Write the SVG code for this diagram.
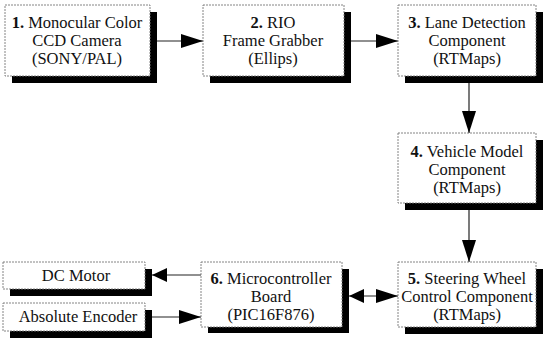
<svg xmlns="http://www.w3.org/2000/svg" width="543" height="339" viewBox="0 0 543 339">
<style>
.box{fill:#ffffff;stroke:#777777;stroke-width:0.9;stroke-dasharray:2 1}
.sh{fill:#000000}
.t{font-family:'Liberation Serif','Times New Roman',serif;font-size:16.5px;fill:#111111;text-anchor:middle}
.b{font-weight:bold}
.ln{stroke:#222222;stroke-width:1.2;fill:none}
</style>
<defs>
<marker id="ah" viewBox="0 0 22 14" refX="22" refY="7" markerWidth="22" markerHeight="14" markerUnits="userSpaceOnUse" orient="auto-start-reverse"><path d="M0,0 L22,7 L0,14 z" fill="#000"/></marker>
<marker id="ahs" viewBox="0 0 15 14" refX="15" refY="7" markerWidth="15" markerHeight="14" markerUnits="userSpaceOnUse" orient="auto-start-reverse"><path d="M0,0 L15,7 L0,14 z" fill="#000"/></marker>
</defs>
<rect width="543" height="339" fill="#fff"/>
<g id="connectors">
<line class="ln" x1="157" y1="41" x2="203" y2="41" marker-end="url(#ah)"/>
<line class="ln" x1="351" y1="41" x2="398" y2="41" marker-end="url(#ah)"/>
<line class="ln" x1="469" y1="83" x2="469" y2="133" marker-end="url(#ah)"/>
<line class="ln" x1="469" y1="210" x2="469" y2="262" marker-end="url(#ah)"/>
<line class="ln" x1="201" y1="275" x2="152" y2="275" marker-end="url(#ahs)"/>
<line class="ln" x1="152" y1="317" x2="201" y2="317" marker-end="url(#ah)"/>
<line class="ln" x1="349" y1="296" x2="398" y2="296" stroke="#888" marker-start="url(#ahs)" marker-end="url(#ah)"/>
</g>
<g id="n1">
<path class="sh" d="M150,12 H157 V83 H12 V76 H150 Z"/>
<rect class="box" x="5" y="5" width="145" height="71"/>
<text class="t" x="77" y="28"><tspan class="b">1.</tspan> Monocular Color</text>
<text class="t" x="77" y="46">CCD Camera</text>
<text class="t" x="77" y="64">(SONY/PAL)</text>
</g>
<g id="n2">
<path class="sh" d="M344,12 H351 V83 H210 V76 H344 Z"/>
<rect class="box" x="203" y="5" width="141" height="71"/>
<text class="t" x="273" y="28"><tspan class="b">2.</tspan> RIO</text>
<text class="t" x="273" y="46">Frame Grabber</text>
<text class="t" x="273" y="64">(Ellips)</text>
</g>
<g id="n3">
<path class="sh" d="M536,12 H543 V83 H405 V76 H536 Z"/>
<rect class="box" x="398" y="5" width="138" height="71"/>
<text class="t" x="467" y="28"><tspan class="b">3.</tspan> Lane Detection</text>
<text class="t" x="467" y="46">Component</text>
<text class="t" x="467" y="64">(RTMaps)</text>
</g>
<g id="n4">
<path class="sh" d="M536,140 H543 V210 H405 V203 H536 Z"/>
<rect class="box" x="398" y="133" width="138" height="70"/>
<text class="t" x="467" y="157"><tspan class="b">4.</tspan> Vehicle Model</text>
<text class="t" x="467" y="175">Component</text>
<text class="t" x="467" y="193">(RTMaps)</text>
</g>
<g id="n5">
<path class="sh" d="M536,269 H543 V334 H405 V327 H536 Z"/>
<rect class="box" x="398" y="262" width="138" height="65"/>
<text class="t" x="467" y="284"><tspan class="b">5.</tspan> Steering Wheel</text>
<text class="t" x="467" y="302">Control Component</text>
<text class="t" x="467" y="320">(RTMaps)</text>
</g>
<g id="n6">
<path class="sh" d="M342,269 H349 V333 H208 V327 H342 Z"/>
<rect class="box" x="201" y="262" width="141" height="65"/>
<text class="t" x="271" y="284"><tspan class="b">6.</tspan> Microcontroller</text>
<text class="t" x="271" y="302">Board</text>
<text class="t" x="271" y="320">(PIC16F876)</text>
</g>
<g id="dcmotor">
<path class="sh" d="M145,269 H152 V296 H10 V289 H145 Z"/>
<rect class="box" x="3" y="262" width="142" height="27"/>
<text class="t" x="76" y="281">DC Motor</text>
</g>
<g id="encoder">
<path class="sh" d="M145,310 H152 V338 H10 V331 H145 Z"/>
<rect class="box" x="3" y="303" width="142" height="28"/>
<text class="t" x="78" y="322">Absolute Encoder</text>
</g>
</svg>
